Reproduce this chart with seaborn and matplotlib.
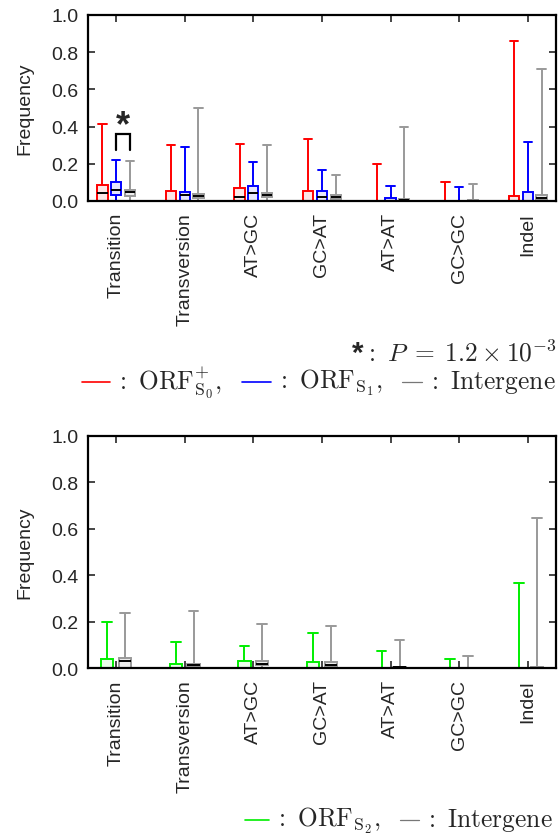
import matplotlib
matplotlib.use('Agg')
import matplotlib.pyplot as plt
from matplotlib.lines import Line2D
import pandas as pd
import seaborn as sns

categories = ['Transition', 'Transversion', 'AT>GC', 'GC>AT', 'AT>AT', 'GC>GC', 'Indel']

# top panel, five number summaries per category (min, q1, median, q3, max)
s0_min = [0, 0, 0, 0, 0, 0, 0]
s0_q1 = [0, 0, 0, 0, 0, 0, 0]
s0_med = [0.043, 0, 0.02, 0, 0, 0, 0]
s0_q3 = [0.086, 0.055, 0.072, 0.055, 0, 0, 0.025]
s0_max = [0.414, 0.30, 0.306, 0.333, 0.20, 0.10, 0.86]

s1_min = [0, 0, 0, 0, 0, 0, 0]
s1_q1 = [0.03, 0, 0, 0, 0, 0, 0]
s1_med = [0.061, 0.034, 0.045, 0.02, 0, 0, 0]
s1_q3 = [0.10, 0.047, 0.078, 0.052, 0.014, 0, 0.047]
s1_max = [0.222, 0.29, 0.208, 0.167, 0.082, 0.077, 0.317]

ig1_min = [0, 0, 0, 0, 0, 0, 0]
ig1_q1 = [0.027, 0.018, 0.022, 0.011, 0, 0, 0.004]
ig1_med = [0.047, 0.027, 0.034, 0.022, 0.005, 0, 0.014]
ig1_q3 = [0.061, 0.038, 0.045, 0.032, 0.01, 0.004, 0.034]
ig1_max = [0.215, 0.50, 0.30, 0.141, 0.40, 0.09, 0.708]

# bottom panel
s2_min = [0, 0, 0, 0, 0, 0, 0]
s2_q1 = [0, 0, 0, 0, 0, 0, 0]
s2_med = [0, 0, 0, 0, 0, 0, 0]
s2_q3 = [0.039, 0.017, 0.029, 0.024, 0, 0, 0]
s2_max = [0.20, 0.113, 0.095, 0.152, 0.075, 0.04, 0.365]

ig2_min = [0, 0, 0, 0, 0, 0, 0]
ig2_q1 = [0, 0.008, 0.012, 0.01, 0.002, 0, 0]
ig2_med = [0.029, 0.012, 0.019, 0.015, 0.003, 0, 0.002]
ig2_q3 = [0.042, 0.019, 0.03, 0.024, 0.005, 0.002, 0.004]
ig2_max = [0.236, 0.246, 0.19, 0.183, 0.121, 0.053, 0.646]

edge = {'S0': '#ff0000', 'S1': '#0000ff', 'IG': '#999999', 'S2': '#00ee00'}
fill = {'S0': '#ffe4e4', 'S1': '#e4e4ff', 'IG': '#ececec', 'S2': '#e8ffe8'}

top_labels = [r'${:}\ \mathrm{ORF}^{+}_{\mathrm{S}_0}{,}$',
              r'${:}\ \mathrm{ORF}_{\mathrm{S}_1}{,}$',
              r'${:}\ \mathrm{Intergene}$']
bottom_labels = [r'${:}\ \mathrm{ORF}_{\mathrm{S}_2}{,}$',
                 r'${:}\ \mathrm{Intergene}$']
pvalue_label = r'${:}\ P\;=\;1.2 \times 10^{-3}$'


def long_frame(series):
    rows = []
    for name, stats in series.items():
        for i, cat in enumerate(categories):
            for s in stats:
                rows.append((cat, name, s[i]))
    return pd.DataFrame(rows, columns=['cat', 'series', 'freq'])


def draw_panel(ax, df, order, width, gap, capw):
    for name in order:
        sns.boxplot(data=df[df.series == name], x='cat', y='freq', hue='series',
                    hue_order=order, order=categories, palette=fill,
                    linecolor=edge[name], linewidth=1.4, whis=(0, 100),
                    width=width, gap=gap, dodge=True, showfliers=False,
                    medianprops=dict(color='black', linewidth=1.4),
                    capwidths=capw, legend=False, ax=ax)
    ax.set_xlim(-0.41, 6.41)
    ax.set_ylim(0, 1.0)
    ax.set_yticks([0, 0.2, 0.4, 0.6, 0.8, 1.0])
    ax.set_yticklabels(['0.0', '0.2', '0.4', '0.6', '0.8', '1.0'])
    ax.set_xlabel('')
    ax.set_ylabel('Frequency', fontsize=14, labelpad=13)
    ax.tick_params(direction='in', top=True, right=True, length=5, width=1.2,
                   labelsize=14)
    ax.tick_params(axis='y', pad=7)
    ax.tick_params(axis='x', labelrotation=90, pad=8)
    for sp in ax.spines.values():
        sp.set_visible(True)
        sp.set_linewidth(1.6)
        sp.set_color('black')


sns.set_style('ticks')
plt.rcParams['font.family'] = ['Liberation Sans', 'DejaVu Sans']
plt.rcParams['mathtext.fontset'] = 'cm'

fig = plt.figure(figsize=(5.6, 8.37), dpi=100)
ax1 = fig.add_axes([0.1571, 0.7587, 0.8357, 0.2222])
ax2 = fig.add_axes([0.1571, 0.2007, 0.8357, 0.2772])

top = long_frame({
    'S0': [s0_min, s0_q1, s0_med, s0_q3, s0_max],
    'S1': [s1_min, s1_q1, s1_med, s1_q3, s1_max],
    'IG': [ig1_min, ig1_q1, ig1_med, ig1_q3, ig1_max],
})
bottom = long_frame({
    'S2': [s2_min, s2_q1, s2_med, s2_q3, s2_max],
    'IG': [ig2_min, ig2_q1, ig2_med, ig2_q3, ig2_max],
})

draw_panel(ax1, top, ['S0', 'S1', 'IG'], 0.6, 0.25, 0.12)
draw_panel(ax2, bottom, ['S2', 'IG'], 0.52, 0.31, 0.14)

# significance bracket between ORF_S1 and intergene in Transition
bracket_x = [0, 0, 0.2, 0.2]
bracket_y = [0.276, 0.36, 0.36, 0.276]
ax1.plot(bracket_x, bracket_y, color='black', lw=1.6, solid_joinstyle='miter')
ax1.text(0.1, 0.405, '*', fontsize=26, fontweight='bold', ha='center', va='center')

W, H = 560, 837
fig.canvas.draw()
renderer = fig.canvas.get_renderer()


def text_width(s, fs, **kw):
    t = fig.text(0, 0, s, fontsize=fs, **kw)
    w = t.get_window_extent(renderer).width
    t.remove()
    return w


def line_at(x0, length, y, color, lw):
    fig.add_artist(Line2D([x0 / W, (x0 + length) / W], [1 - y / H, 1 - y / H],
                          color=color, lw=lw, transform=fig.transFigure))


GAP_IN, GAP_OUT = 5, 20


def legend_row(y, colors, lengths, labels, fs, x_start=None, x_end=None):
    widths = [text_width(s, fs) for s in labels]
    total = sum(widths) + sum(lengths) + GAP_IN * len(labels) + GAP_OUT * (len(labels) - 1)
    x = x_start if x_start is not None else x_end - total
    for c, ln, s, w in zip(colors, lengths, labels, widths):
        lw = 0.9 if c == 'dash' else 1.2
        line_at(x, ln, y, '#777777' if c == 'dash' else c, lw)
        x += ln + GAP_IN
        fig.text(x / W, 1 - y / H, s, fontsize=fs, ha='left', va='center')
        x += w + GAP_OUT


# scale legend font so the top row spans the reference width
fs0 = 16
lengths_top = [28, 29, 20]
fixed = sum(lengths_top) + GAP_IN * 3 + GAP_OUT * 2
tw = sum(text_width(s, fs0) for s in top_labels)
fs = fs0 * (557 - 82 - fixed) / tw

# p-value note: bold sans asterisk followed by the math text
pw = text_width(pvalue_label, fs)
fig.text(557 / W, 1 - 353 / H, pvalue_label, fontsize=fs, ha='right', va='center')
fig.text((557 - pw - 1) / W, 1 - 354 / H, '*', fontsize=fs + 3, fontweight='bold',
         ha='right', va='center')

legend_row(383, [edge['S0'], edge['S1'], 'dash'], lengths_top, top_labels, fs,
           x_start=82)
legend_row(821, [edge['S2'], 'dash'], [24, 19], bottom_labels, fs, x_end=553)

fig.savefig('out.png', dpi=100)
